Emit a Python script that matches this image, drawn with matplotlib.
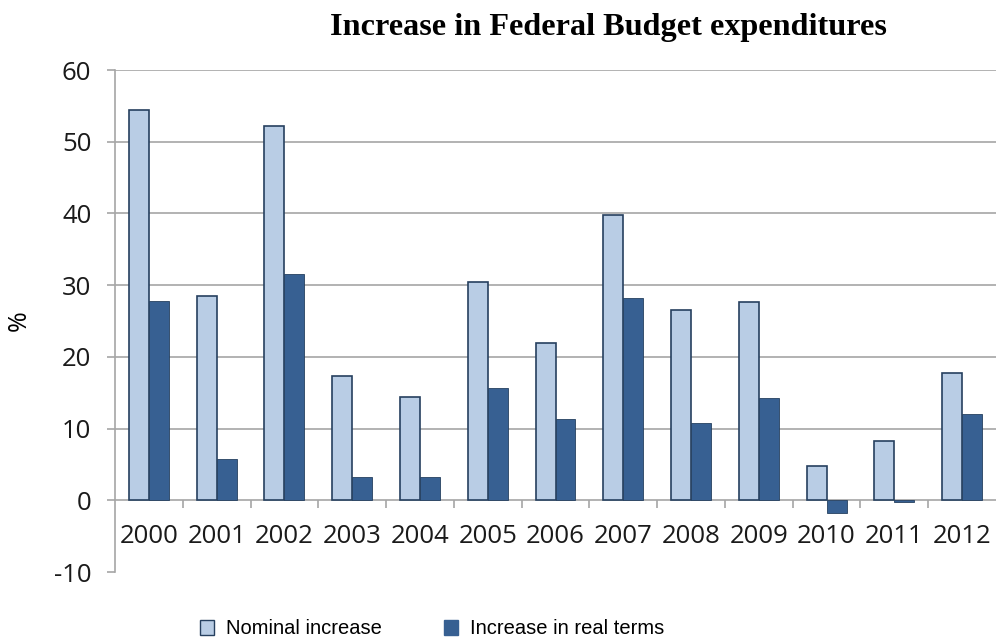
import matplotlib.pyplot as plt
import numpy as np
from matplotlib.patches import Patch

years = ['2000', '2001', '2002', '2003', '2004', '2005', '2006',
         '2007', '2008', '2009', '2010', '2011', '2012']
nominal = [54.4, 28.5, 52.2, 17.3, 14.4, 30.4, 22.0, 39.8, 26.6, 27.6, 4.8, 8.2, 17.8]
real = [27.8, 5.7, 31.5, 3.2, 3.2, 15.7, 11.3, 28.2, 10.8, 14.2, -1.8, -0.2, 12.0]

light = '#B9CDE5'
dark = '#376092'
edge = '#26405F'
grid_col = '#A6A6A6'

plt.rcParams['axes.unicode_minus'] = False


def main():
    fig = plt.figure(figsize=(9.96, 6.4), dpi=100)
    ax = fig.add_axes([115 / 996, 1 - 572 / 640, 881 / 996, 502 / 640])

    x = np.arange(len(years))
    w = 0.295
    ax.bar(x - w / 2, nominal, w, color=light, edgecolor=edge, linewidth=1.2, zorder=3)
    ax.bar(x + w / 2, real, w, color=dark, edgecolor=edge, linewidth=0.6, zorder=3)

    ax.set_xlim(-0.5, len(years) - 0.5)
    ax.set_ylim(-10, 60)
    ax.set_yticks(range(-10, 61, 10))
    for v in range(10, 61, 10):
        ax.axhline(v, color=grid_col, linewidth=1.2, zorder=1)

    for s in ['top', 'right']:
        ax.spines[s].set_visible(False)
    ax.spines['left'].set_color(grid_col)
    ax.spines['left'].set_linewidth(1.2)
    ax.spines['bottom'].set_position(('data', 0))
    ax.spines['bottom'].set_color(grid_col)
    ax.spines['bottom'].set_linewidth(1.2)

    ax.set_xticks(x)
    ax.set_xticklabels(years, fontsize=18.5, family='Open Sans', color='#1a1a1a')
    ax.tick_params(axis='x', which='major', length=0, pad=17)
    ax.set_xticks(np.arange(0.5, len(years) - 0.5, 1), minor=True)
    ax.tick_params(axis='x', which='minor', length=6, width=1.2, color=grid_col, direction='out')

    ax.tick_params(axis='y', length=6, width=1.2, color=grid_col, pad=11,
                   labelsize=18.5, labelcolor='#1a1a1a')
    for lab in ax.get_yticklabels():
        lab.set_family('Open Sans')

    ax.set_ylabel('%', fontsize=18, family='Open Sans')
    ax.yaxis.set_label_coords(-0.094, 0.5)

    fig.text(608 / 996, 1 - 27 / 640, 'Increase in Federal Budget expenditures',
             ha='center', va='center', fontsize=23.2, fontweight='bold',
             family='Liberation Serif')

    handles = [Patch(facecolor=light, edgecolor=edge, linewidth=1.0, label='Nominal increase'),
               Patch(facecolor=dark, edgecolor=dark, label='Increase in real terms')]
    fig.legend(handles=handles, loc='center', bbox_to_anchor=(432 / 996, 1 - 629 / 640),
               ncol=2, frameon=False, prop={'family': 'Liberation Sans', 'size': 14.5},
               handlelength=0.7, handleheight=0.7, handletextpad=0.6, columnspacing=3.1)

    fig.savefig('out.png', dpi=100)


if __name__ == "__main__":
    main()
